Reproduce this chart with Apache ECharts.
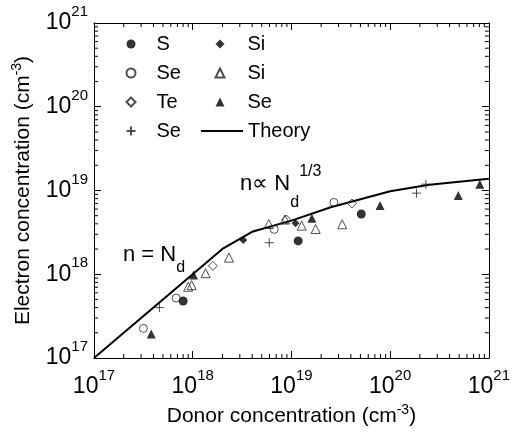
<!DOCTYPE html>
<html>
<head>
<meta charset="utf-8">
<script src="https://cdn.jsdelivr.net/npm/echarts@6/dist/echarts.min.js"></script>
<style>
  html, body { margin: 0; padding: 0; background: #fff; }
  #chart { width: 513px; height: 432px; }
</style>
</head>
<body>
<div id="chart"></div>
<script>
// Electron vs donor concentration, log-log

const FONT = '"Liberation Sans", Arial, Helvetica, sans-serif';

// axis decades (exponents of 10)
const decadeExponents = [17, 18, 19, 20, 21];

// S (filled circles)
const sDonor    = [8.0e17, 1.17e19, 5.1e19];
const sElectron = [4.8e17, 2.5e18, 5.24e18];

// Se (open circles)
const seCircDonor    = [3.16e17, 6.8e17, 6.7e18, 2.69e19];
const seCircElectron = [2.26e17, 5.2e17, 3.44e18, 7.2e18];

// Te (open diamonds)
const teDonor    = [1.6e18, 8.9e18, 4.1e19];
const teElectron = [1.26e18, 4.5e18, 7.0e18];

// Se (plus signs)
const sePlusDonor    = [4.6e17, 5.96e18, 1.85e20, 2.3e20];
const sePlusElectron = [4.0e17, 2.38e18, 9.3e18, 1.19e19];

// Si (filled diamonds)
const siDiaDonor    = [3.25e18, 1.1e19];
const siDiaElectron = [2.56e18, 4.06e18];

// Si (open triangles)
const siTriDonor    = [9.0e17, 9.75e17, 1.35e18, 2.33e18, 5.9e18, 8.6e18, 1.27e19, 1.76e19, 3.27e19];
const siTriElectron = [7.1e17, 7.4e17, 1.03e18, 1.58e18, 3.98e18, 4.5e18, 3.8e18, 3.47e18, 3.95e18];

// Se (filled triangles)
const seTriDonor    = [3.8e17, 1.02e18, 1.61e19, 7.9e19, 4.9e20, 8.1e20];
const seTriElectron = [1.94e17, 9.8e17, 4.66e18, 6.6e18, 8.7e18, 1.19e19];

// Theory curve
const theoryDonor    = [1e17, 2.04e18, 4.07e18, 1e19, 2.5e19, 1e20, 2.5e20, 1e21];
const theoryElectron = [1e17, 2.04e18, 3.24e18, 4.37e18, 6.3e18, 9.8e18, 1.17e19, 1.38e19];

const legendLabels = {
  S: 'S', SeCircle: 'Se', Te: 'Te', SePlus: 'Se',
  SiDiamond: 'Si', SiTriangle: 'Si', SeTriangle: 'Se', Theory: 'Theory'
};

const pairs = (xs, ys) => xs.map((x, i) => [x, ys[i]]);

const AX_MIN = Math.pow(10, decadeExponents[0]);
const AX_MAX = Math.pow(10, decadeExponents[decadeExponents.length - 1]);

// minor ticks at 2..9 within each decade
const minorTicks = [];
for (let i = 0; i < decadeExponents.length - 1; i++) {
  for (let m = 2; m <= 9; m++) minorTicks.push(m * Math.pow(10, decadeExponents[i]));
}

const PLUS = 'path://M5,0L5,10M0,5L10,5';

const powRich = {
  b: { fontSize: 23, lineHeight: 23, verticalAlign: 'bottom', fontFamily: FONT, color: '#000' },
  s: { fontSize: 15, padding: [0, 0, 15, 0], verticalAlign: 'top', fontFamily: FONT, color: '#000' }
};
const powLabel = v => '{b|10}{s|' + Math.round(Math.log10(v)) + '}';

const nameRich = {
  b: { fontSize: 21, lineHeight: 21, verticalAlign: 'bottom', fontFamily: FONT, color: '#000' },
  s: { fontSize: 14, padding: [0, 0, 10, 0], verticalAlign: 'top', fontFamily: FONT, color: '#000' }
};

function logAxis(extra) {
  return Object.assign({
    type: 'log',
    logBase: 10,
    min: AX_MIN,
    max: AX_MAX,
    axisLine: { show: true, lineStyle: { color: '#000', width: 1 } },
    axisTick: { show: true, inside: true, length: 7, lineStyle: { color: '#000', width: 1 } },
    splitLine: { show: false },
    minorTick: { show: false },
    minorSplitLine: { show: false }
  }, extra);
}

function tickSeries(alongX) {
  return {
    type: 'custom',
    coordinateSystem: 'cartesian2d',
    silent: true,
    clip: false,
    z: 1,
    data: minorTicks.map(v => alongX ? [v, AX_MIN] : [AX_MIN, v]),
    renderItem(params, api) {
      const v = alongX ? api.value(0) : api.value(1);
      const st = { stroke: '#000', lineWidth: 1 };
      if (alongX) {
        const b = api.coord([v, AX_MIN]);
        const t = api.coord([v, AX_MAX]);
        return { type: 'group', children: [
          { type: 'line', shape: { x1: b[0], y1: b[1], x2: b[0], y2: b[1] - 4 }, style: st },
          { type: 'line', shape: { x1: t[0], y1: t[1], x2: t[0], y2: t[1] + 4 }, style: st }
        ] };
      }
      const l = api.coord([AX_MIN, v]);
      const r = api.coord([AX_MAX, v]);
      return { type: 'group', children: [
        { type: 'line', shape: { x1: l[0], y1: l[1], x2: l[0] + 4, y2: l[1] }, style: st },
        { type: 'line', shape: { x1: r[0], y1: r[1], x2: r[0] - 4, y2: r[1] }, style: st }
      ] };
    }
  };
}

function scatter(name, xs, ys, symbol, size, filled) {
  return {
    name: name,
    type: 'scatter',
    data: pairs(xs, ys),
    symbol: symbol,
    symbolSize: size,
    symbolKeepAspect: true,
    z: 5,
    itemStyle: filled
      ? { color: '#000', borderWidth: 0 }
      : { color: 'rgba(255,255,255,0)', borderColor: '#222', borderWidth: 1 }
  };
}

// legend rows: 29px apart, first row centred near y = 44
const LEG_TOP = 34;
const LEG_ROW = 29;

function legendColumn(left, names, textPad, width, top) {
  return {
    orient: 'vertical',
    left: left,
    top: top,
    padding: 0,
    itemWidth: width,
    itemHeight: 9,
    itemGap: LEG_ROW - 20,
    selectedMode: false,
    symbolKeepAspect: true,
    data: names,
    formatter: n => legendLabels[n],
    textStyle: { fontSize: 20, lineHeight: 20, color: '#000', fontFamily: FONT, padding: [0, 0, 0, textPad] }
  };
}

const chart = echarts.init(document.getElementById('chart'), null, { renderer: 'canvas' });

chart.setOption({
  animation: false,
  backgroundColor: '#fff',
  grid: { left: 94, right: 24, top: 23, bottom: 74 },
  xAxis: [
    logAxis({
      position: 'bottom',
      name: '{b|Donor concentration (cm}{s|-3}{b|)}',
      nameLocation: 'middle',
      nameGap: 39,
      nameTextStyle: { rich: nameRich },
      axisLabel: { margin: 10, formatter: powLabel, rich: powRich }
    }),
    logAxis({ position: 'top', axisLabel: { show: false } })
  ],
  yAxis: [
    logAxis({
      position: 'left',
      name: '{b|Electron concentration (cm}{s|-3}{b|)}',
      nameLocation: 'middle',
      nameGap: 60,
      nameTextStyle: { rich: nameRich },
      axisLabel: { margin: 6, formatter: powLabel, rich: powRich, padding: [0, 0, 7, 0] }
    }),
    logAxis({ position: 'right', axisLabel: { show: false } })
  ],
  legend: [
    legendColumn(125.5, ['S', 'SeCircle', 'Te', 'SePlus'], 16, 9, LEG_TOP),
    legendColumn(214.5, ['SiDiamond', 'SiTriangle', 'SeTriangle'], 18, 9, LEG_TOP),
    Object.assign(legendColumn(200, [{ name: 'Theory', itemStyle: { opacity: 0 } }], 0, 42, LEG_TOP + 3 * LEG_ROW))
  ],
  graphic: [
    {
      type: 'text', x: 123, y: 244, silent: true,
      style: {
        text: '{b|n = N}{d|d}',
        rich: {
          b: { fontSize: 22, lineHeight: 22, verticalAlign: 'top', fontFamily: FONT, fill: '#000' },
          d: { fontSize: 16, padding: [16, 0, 0, 0], verticalAlign: 'bottom', fontFamily: FONT, fill: '#000' }
        }
      }
    },
    {
      type: 'text', x: 240, y: 164, silent: true,
      style: {
        text: '{b|n\u221D N}{d|d}{u|1/3}',
        rich: {
          b: { fontSize: 22, padding: [9, 0, 0, 0], verticalAlign: 'top', fontFamily: FONT, fill: '#000' },
          d: { fontSize: 16, padding: [31, 0, 0, 0], verticalAlign: 'bottom', fontFamily: FONT, fill: '#000' },
          u: { fontSize: 16, verticalAlign: 'top', fontFamily: FONT, fill: '#000' }
        }
      }
    }
  ],
  series: [
    tickSeries(true),
    tickSeries(false),
    {
      name: 'Theory',
      type: 'line',
      data: pairs(theoryDonor, theoryElectron),
      symbol: 'none',
      z: 3,
      lineStyle: { color: '#000', width: 2 },
      itemStyle: { color: 'rgba(0,0,0,0)', opacity: 0 }
    },
    scatter('S', sDonor, sElectron, 'circle', 9, true),
    scatter('SeCircle', seCircDonor, seCircElectron, 'circle', 8, false),
    scatter('Te', teDonor, teElectron, 'diamond', 9, false),
    scatter('SePlus', sePlusDonor, sePlusElectron, PLUS, 9, false),
    scatter('SiDiamond', siDiaDonor, siDiaElectron, 'diamond', 8, true),
    scatter('SiTriangle', siTriDonor, siTriElectron, 'triangle', 9, false),
    scatter('SeTriangle', seTriDonor, seTriElectron, 'triangle', 9, true)
  ]
});
</script>
</body>
</html>
